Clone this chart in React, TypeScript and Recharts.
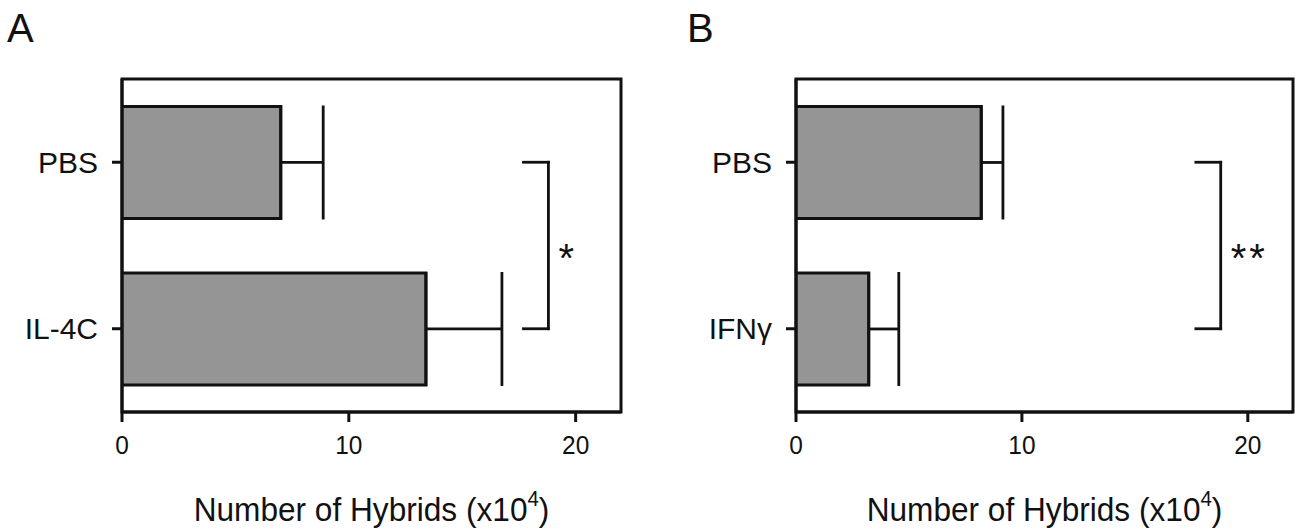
import { Bar, BarChart, ErrorBar, Label, ReferenceArea, ReferenceLine, XAxis, YAxis } from "recharts";

const FONT = "'Liberation Sans', Arial, sans-serif";
const INK = "#111";
const BAR_FILL = "#959595";

// panel A
const categoriesA = ["PBS", "IL-4C"];
const valuesA = [7.0, 13.4];
const errorsA = [1.87, 3.35];
const starsA = "*";

// panel B
const categoriesB = ["PBS", "IFNγ"];
const valuesB = [8.2, 3.22];
const errorsB = [0.96, 1.33];
const starsB = "**";

const xTicks = [0, 10, 20];
const xMax = 22;
// bracket: arm start and vertical line position, in data units
const bracketArm = 17.7;
const bracketX = 18.8;

const W_A = 647;
const W_B = 621;
const H = 529;

// the original figure uses a slightly condensed sans, so squeeze text a little
const XTick = (p: any) => (
  <text
    transform={`translate(${p.x},${p.y}) scale(0.94,1)`}
    dy="0.71em"
    textAnchor="middle"
    fontSize={26}
    fontFamily={FONT}
    fill={INK}
  >
    {p.payload.value}
  </text>
);

const AxisTitle = (props: any) => {
  const vb = props.viewBox;
  const cx = vb.x + vb.width / 2;
  const base = vb.y + 109;
  return (
    <text
      transform={`translate(${cx},${base}) scale(0.93,1)`}
      textAnchor="middle"
      fontSize={34}
      fontFamily={FONT}
      fill={INK}
    >
      Number of Hybrids (x10
      <tspan dy={-15} fontSize={22}>4</tspan>
      <tspan dy={15} fontSize={34}>)</tspan>
    </text>
  );
};

const Stars = (text: string) => (props: any) => {
  const vb = props.viewBox;
  return (
    <text
      x={vb.x + 10}
      y={vb.y + vb.height / 2 + 26}
      fontSize={40}
      fontFamily={FONT}
      fill={INK}
      letterSpacing={text.length > 1 ? 3 : 0}
    >
      {text}
    </text>
  );
};

const Panel = ({
  categories,
  values,
  errors,
  stars,
  width,
  right,
}: {
  categories: string[];
  values: number[];
  errors: number[];
  stars: string;
  width: number;
  right: number;
}) => {
  const data = categories.map((c, i) => ({ name: c, value: values[i], err: [0, errors[i]] }));
  const first = categories[0];
  const last = categories[categories.length - 1];
  const axisStroke = { stroke: INK, strokeWidth: 3 };
  return (
    <BarChart
      width={width}
      height={H}
      data={data}
      layout="vertical"
      barCategoryGap="16.5%"
      margin={{ top: 79, right, bottom: 0, left: 0 }}
    >
      {/* frame around the plot area */}
      <ReferenceArea x1={0} x2={xMax} fill="none" fillOpacity={0} stroke={INK} strokeWidth={3} ifOverflow="visible" />
      <XAxis
        type="number"
        domain={[0, xMax]}
        ticks={xTicks}
        allowDataOverflow
        height={117}
        axisLine={axisStroke}
        tickLine={axisStroke}
        tickSize={10}
        tickMargin={14}
        tick={XTick}
      >
        <Label content={AxisTitle} />
      </XAxis>
      <YAxis
        type="category"
        dataKey="name"
        width={122}
        axisLine={axisStroke}
        tickLine={axisStroke}
        tickSize={10}
        tickMargin={14}
        tick={{ fill: INK, fontSize: 30, fontFamily: FONT }}
      />
      <Bar dataKey="value" fill={BAR_FILL} stroke={INK} strokeWidth={3} isAnimationActive={false}>
        <ErrorBar dataKey="err" direction="x" width={57} stroke={INK} strokeWidth={2.8} />
      </Bar>
      <ReferenceLine
        segment={[{ x: bracketArm, y: first }, { x: bracketX, y: first }]}
        stroke={INK}
        strokeWidth={2.8}
        strokeLinecap="square"
      />
      <ReferenceLine
        segment={[{ x: bracketArm, y: last }, { x: bracketX, y: last }]}
        stroke={INK}
        strokeWidth={2.8}
        strokeLinecap="square"
      />
      <ReferenceLine
        segment={[{ x: bracketX, y: first }, { x: bracketX, y: last }]}
        stroke={INK}
        strokeWidth={2.8}
        strokeLinecap="square"
        label={{ content: Stars(stars) }}
      />
    </BarChart>
  );
};

export default function App() {
  const letter = { position: "absolute" as const, top: 8, fontSize: 40, lineHeight: 1, fontFamily: FONT, color: INK };
  return (
    <div style={{ position: "absolute", left: 0, top: 0, width: 1295, height: H, background: "#fff", overflow: "hidden" }}>
      <div style={{ position: "absolute", left: 0, top: 0 }}>
        <Panel categories={categoriesA} values={valuesA} errors={errorsA} stars={starsA} width={W_A} right={26} />
      </div>
      <div style={{ position: "absolute", left: W_A + 27, top: 0 }}>
        <Panel categories={categoriesB} values={valuesB} errors={errorsB} stars={starsB} width={W_B} right={2} />
      </div>
      <div style={{ ...letter, left: 7 }}>A</div>
      <div style={{ ...letter, left: 687 }}>B</div>
    </div>
  );
}
